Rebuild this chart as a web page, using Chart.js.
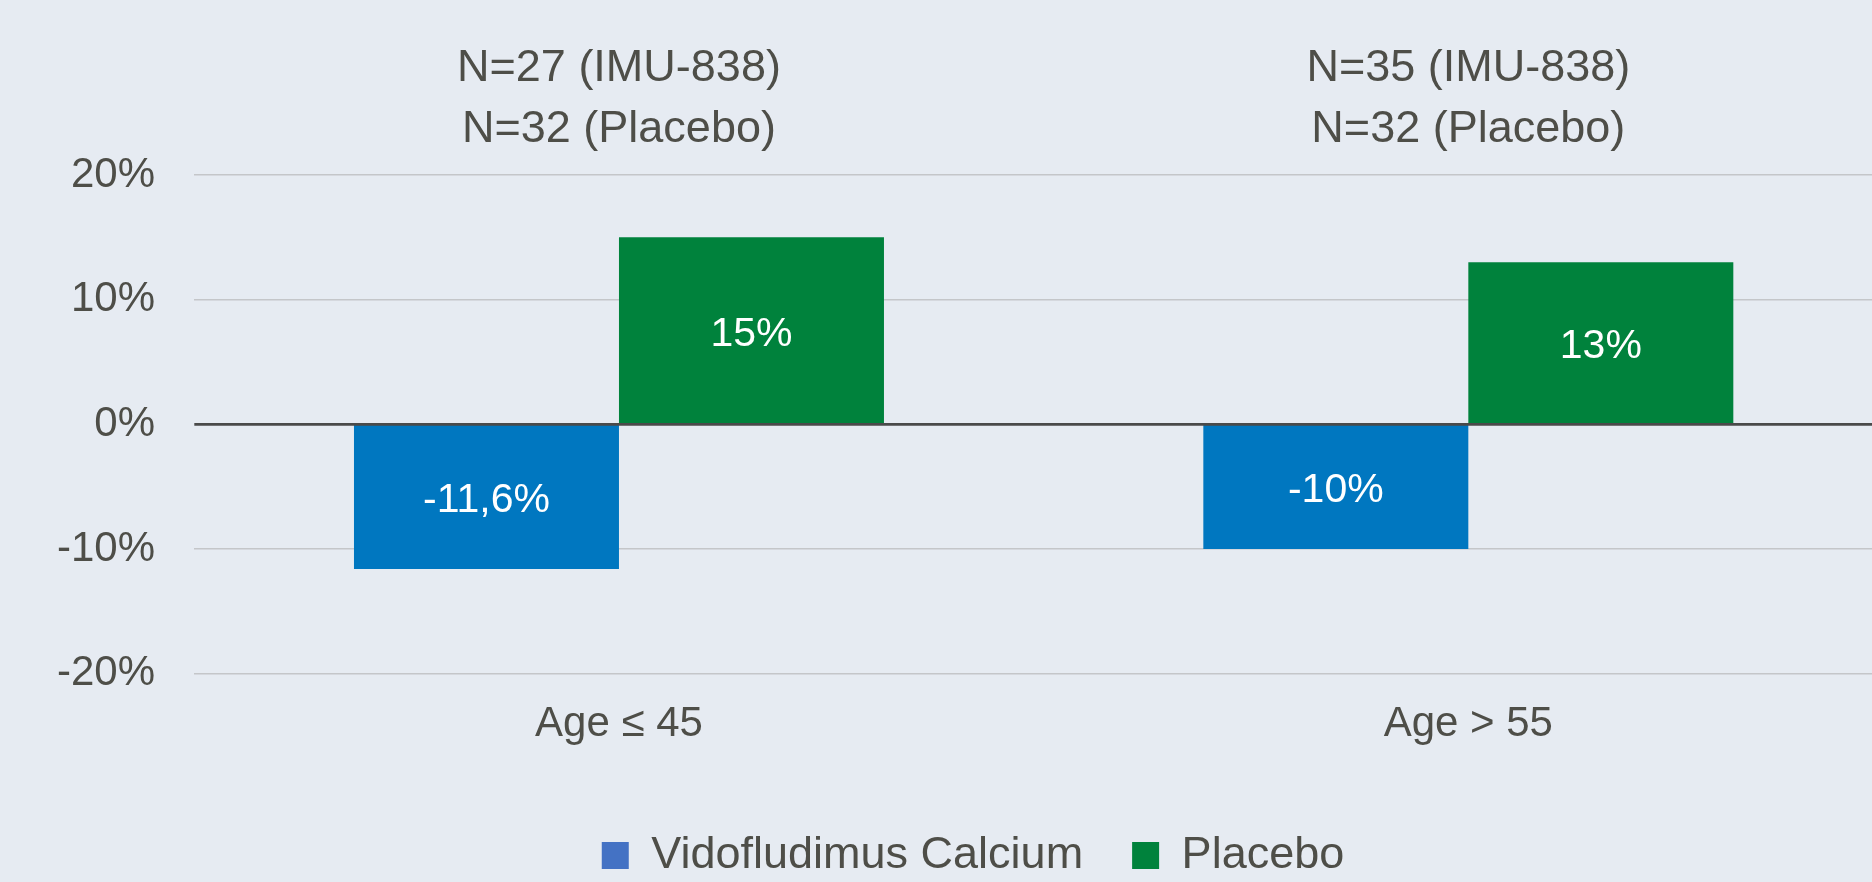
<!DOCTYPE html>
<html>
<head>
<meta charset="utf-8">
<script src="https://cdn.jsdelivr.net/npm/chart.js@4.4.1/dist/chart.umd.min.js"></script>
<style>
  html, body { margin: 0; padding: 0; background: #e6ebf2; overflow: hidden; width: 1872px; height: 882px; }
  #wrap { width: 1900px; height: 882px; }
  canvas { display: block; }
</style>
</head>
<body>
<div id="wrap"><canvas id="c" width="1900" height="882"></canvas></div>
<script>
// ---- data ----
const categories = ['Age \u2264 45', 'Age > 55'];
const seriesNames = ['Vidofludimus Calcium', 'Placebo'];
const vidofludimus = [-11.6, -10];
const placebo = [15, 13];
const nIMU = [27, 35];
const nPlacebo = [32, 32];
const yTicks = [20, 10, 0, -10, -20];

// ---- styles ----
const TEXT = '#4e4e48';
const FONT = '"Liberation Sans", Arial, sans-serif';
const barColors = ['#0077c0', '#00823c'];
const legendColors = ['#4472c4', '#00823c'];

const fmtPct = v => String(v).replace('.', ',') + '%';

const topLabels = {
  id: 'topLabels',
  afterDraw(chart) {
    const ctx = chart.ctx;
    const xs = chart.scales.x;
    const top = chart.chartArea.top;
    ctx.save();
    ctx.fillStyle = TEXT;
    ctx.font = '45px ' + FONT;
    ctx.textAlign = 'center';
    ctx.textBaseline = 'alphabetic';
    categories.forEach((c, i) => {
      const x = xs.getPixelForValue(i);
      ctx.fillText('N=' + nIMU[i] + ' (IMU-838)', x, top - 94);
      ctx.fillText('N=' + nPlacebo[i] + ' (Placebo)', x, top - 33);
    });
    ctx.restore();
  }
};

const zeroAndLabels = {
  id: 'zeroAndLabels',
  afterDatasetsDraw(chart) {
    const ctx = chart.ctx;
    const ys = chart.scales.y;
    const area = chart.chartArea;
    const y0 = ys.getPixelForValue(0);
    ctx.save();
    ctx.strokeStyle = '#4a4a4a';
    ctx.lineWidth = 2.6;
    ctx.beginPath();
    ctx.moveTo(area.left, y0);
    ctx.lineTo(area.right, y0);
    ctx.stroke();
    ctx.fillStyle = '#ffffff';
    ctx.font = '41px ' + FONT;
    ctx.textAlign = 'center';
    ctx.textBaseline = 'middle';
    chart.data.datasets.forEach((ds, di) => {
      const meta = chart.getDatasetMeta(di);
      meta.data.forEach((bar, i) => {
        const p = bar.getCenterPoint();
        ctx.fillText(fmtPct(ds.data[i]), p.x, p.y + 4);
      });
    });
    ctx.restore();
  }
};

new Chart(document.getElementById('c'), {
  type: 'bar',
  data: {
    labels: categories,
    datasets: [
      { label: seriesNames[0], data: vidofludimus, backgroundColor: barColors[0], borderWidth: 0 },
      { label: seriesNames[1], data: placebo, backgroundColor: barColors[1], borderWidth: 0 }
    ]
  },
  options: {
    responsive: false,
    animation: false,
    devicePixelRatio: 1,
    layout: { padding: { top: 175, left: 53, right: 7, bottom: 0 } },
    datasets: { bar: { barPercentage: 1, categoryPercentage: 0.624 } },
    scales: {
      x: {
        grid: { display: false, drawTicks: false },
        border: { display: false },
        ticks: { color: TEXT, font: { family: FONT, size: 42, lineHeight: 1.2 }, padding: 26 },
        afterFit(s) { s.height = 110.3; }
      },
      y: {
        min: -20, max: 20,
        afterBuildTicks(s) { s.ticks = yTicks.map(v => ({ value: v })); },
        grid: {
          drawTicks: false,
          color: ctx => ctx.tick && ctx.tick.value === 0 ? 'rgba(0,0,0,0)' : '#c4c6c9',
          lineWidth: 1.5
        },
        border: { display: false },
        ticks: {
          color: TEXT,
          font: { family: FONT, size: 42 },
          padding: 39.3,
          callback: v => v + '%'
        },
        afterFit(s) { s.width = 141.3; }
      }
    },
    plugins: {
      tooltip: { enabled: false },
      legend: {
        position: 'bottom',
        maxHeight: 98,
        labels: {
          color: TEXT,
          font: { family: FONT, size: 45 },
          boxWidth: 27,
          boxHeight: 27,
          padding: 49,
          generateLabels(chart) {
            return chart.data.datasets.map((ds, i) => ({
              text: ds.label,
              fillStyle: legendColors[i],
              strokeStyle: legendColors[i],
              lineWidth: 0,
              hidden: false,
              datasetIndex: i,
              fontColor: TEXT
            }));
          }
        }
      }
    }
  },
  plugins: [topLabels, zeroAndLabels]
});
</script>
</body>
</html>
